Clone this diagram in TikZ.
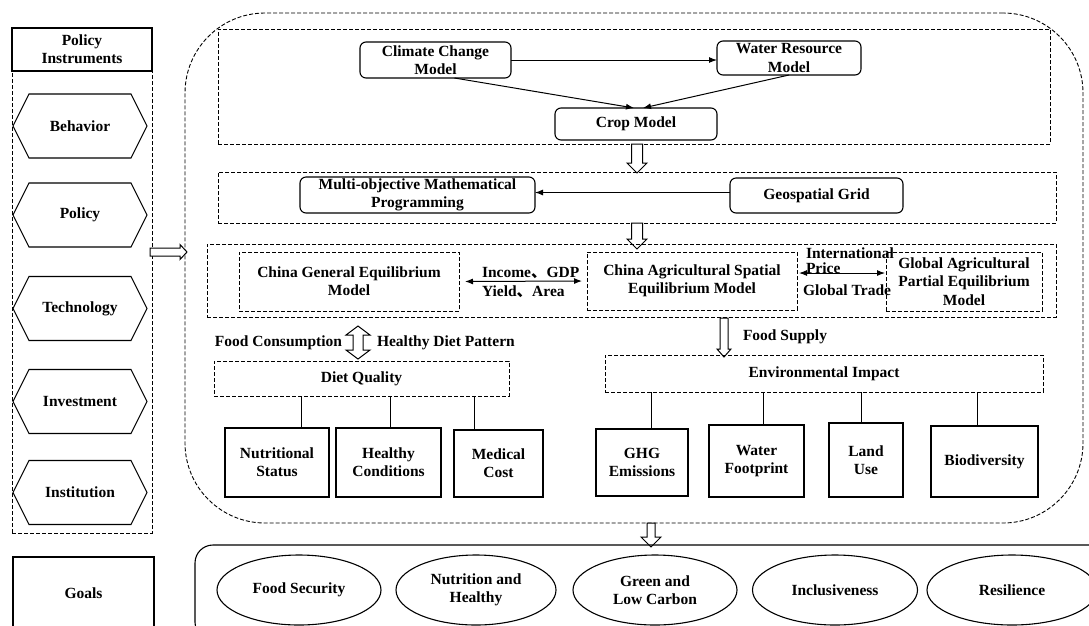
\documentclass[tikz,border=0pt]{standalone}
\usepackage{fontspec}
\setmainfont{Liberation Serif}
\newfontfamily\cjk{Noto Sans CJK SC}
\usetikzlibrary{arrows.meta,shapes.geometric,calc}
\newcommand\hexnode[3]{%
  \node (#1) at (80,#2) {#3};
  \draw[line width=1.1pt] (13,#2) -- (29,{#2-32}) -- (131,{#2-32}) -- (147,#2) -- (131,{#2+32}) -- (29,{#2+32}) -- cycle;}
% x, ytop, ybot, shaft half, head half, head length
\newcommand\hdown[6]{%
  \draw[harrow] ({#1-#4},#2) -- ({#1-#4},{#3-#6}) -- ({#1-#5},{#3-#6}) -- (#1,#3) -- ({#1+#5},{#3-#6}) -- ({#1+#4},{#3-#6}) -- ({#1+#4},#2) -- cycle;}
\newcommand\hupdown[6]{%
  \draw[harrow] (#1,#2) -- ({#1+#5},{#2+#6}) -- ({#1+#4},{#2+#6}) -- ({#1+#4},{#3-#6}) -- ({#1+#5},{#3-#6}) -- (#1,#3) -- ({#1-#5},{#3-#6}) -- ({#1-#4},{#3-#6}) -- ({#1-#4},{#2+#6}) -- ({#1-#5},{#2+#6}) -- cycle;}
% y, xleft, xright, shaft half, head half, head length
\newcommand\hright[6]{%
  \draw[harrow] (#2,{#1-#4}) -- ({#3-#6},{#1-#4}) -- ({#3-#6},{#1-#5}) -- (#3,#1) -- ({#3-#6},{#1+#5}) -- ({#3-#6},{#1+#4}) -- (#2,{#1+#4}) -- cycle;}
\begin{document}
\begin{tikzpicture}[x=1pt,y=-1pt,
  every node/.style={font=\fontsize{15.5}{18.3}\selectfont\bfseries, align=center, inner sep=0pt, outer sep=0pt},
  sbox/.style={draw, line width=1.1pt},
  dbox/.style={draw, line width=0.9pt, dash pattern=on 4pt off 2pt},
  rbox/.style={draw, line width=1.1pt, rounded corners=6pt},
  conn/.style={line width=1pt},
  arr/.style={line width=1pt, -{Latex[length=8pt,width=6pt]}},
  darr/.style={line width=1pt, {Latex[length=8pt,width=6pt]}-{Latex[length=8pt,width=6pt]}},
  harrow/.style={draw, line width=1pt, fill=white, line join=miter},
  goal/.style={ellipse, draw, line width=1.1pt}
]
\fill[white] (0,0) rectangle (1089,625);
\useasboundingbox (0,0) rectangle (1089,625);

% ---------- left panel ----------
\node[sbox, minimum width=140pt, minimum height=43pt] (pi) at (82,49.5) {Policy\\Instruments};
\node[dbox, minimum width=140pt, minimum height=462pt] (panel) at (82,302) {};
\hexnode{beh}{126}{Behavior}
\hexnode{pol}{215}{Policy}
\hexnode{tec}{308.5}{Technology}
\hexnode{inv}{401.5}{Investment}
\hexnode{ins}{492.5}{Institution}
\node[sbox, minimum width=141pt, minimum height=90pt] (goalsbox) at (83.5,602) {};
\node (goalst) at (83.5,593) {Goals};

% ---------- main dashed frame ----------
\node[dbox, rounded corners=80pt, minimum width=898pt, minimum height=510pt] (main) at (634,268) {};
\hright{252}{150}{187}{4}{7.5}{7}

% ---------- top block ----------
\node[dbox, minimum width=832pt, minimum height=115pt] (top) at (634,86.5) {};
\node[rbox, minimum width=151pt, minimum height=36pt] (cl) at (435.5,60) {Climate Change\\Model};
\node[rbox, minimum width=144pt, minimum height=34pt] (wr) at (789,58) {Water Resource\\Model};
\node[rbox, minimum width=162pt, minimum height=32pt] (cr) at (636,124) {Crop Model};
\draw[arr] (cl.east) -- (cl.east -| wr.west);
\draw[arr] ([xshift=19pt]cl.south) -- ([xshift=-2pt]cr.north);
\draw[arr] (wr.south) -- ([xshift=7pt]cr.north);
\hdown{637}{144}{173}{5.5}{10}{10}

% ---------- second block ----------
\node[dbox, minimum width=838pt, minimum height=51pt] (b2) at (637,197.5) {};
\node[rbox, minimum width=235pt, minimum height=36pt] (mo) at (417.5,195) {Multi-objective Mathematical\\Programming};
\node[rbox, minimum width=173pt, minimum height=35pt] (geo) at (816.5,195.5) {Geospatial Grid};
\draw[arr] ([yshift=3pt]geo.west) -- ([yshift=3pt]geo.west -| mo.east);
\hdown{637}{223}{249}{5.5}{10}{10}

% ---------- third block ----------
\node[dbox, minimum width=849pt, minimum height=73pt] (b3) at (631.5,280.5) {};
\node[dbox, minimum width=220pt, minimum height=59pt] (cge) at (349,281.5) {China General Equilibrium\\Model};
\node[dbox, minimum width=210pt, minimum height=58pt] (case) at (692,281) {China Agricultural Spatial\\Equilibrium Model};
\node[dbox, minimum width=156pt, minimum height=59pt] (gap) at (964,281.5) {Global Agricultural\\Partial Equilibrium\\Model};
\draw[darr, shorten <=6pt, shorten >=5pt] (cge.east) -- (case.west);
\node[anchor=west] (inc) at (482,273) {Income{\cjk 、}GDP};
\node[anchor=west] (yld) at (482,292) {Yield{\cjk 、}Area};
\draw[darr, shorten <=2pt, shorten >=1pt] ([yshift=8pt]case.east) -- ([yshift=8pt]case.east -| gap.west);
\node[anchor=west] (intl) at (806,253) {International};
\node[anchor=west] (price) at (806,268) {Price};
\node[anchor=west] (gtr) at (803,290) {Global Trade};

% ---------- diet side ----------
\hupdown{358}{326}{359}{5}{12}{9}
\node[anchor=east] (fc) at (342,343) {Food Consumption};
\node[anchor=west] (hdp) at (377,343) {Healthy Diet Pattern};
\node[dbox, minimum width=295pt, minimum height=35pt] (dq) at (361.5,378.5) {Diet Quality};
\node[sbox, minimum width=104pt, minimum height=69pt] (ns) at (277,462.5) {Nutritional\\Status};
\node[sbox, minimum width=105pt, minimum height=69pt] (hc) at (388.5,462.5) {Healthy\\Conditions};
\node[sbox, minimum width=89pt, minimum height=67pt] (mc) at (498.5,463.5) {Medical\\Cost};
\draw[conn] ([xshift=24pt]ns.north) -- ([xshift=24pt]ns.north |- dq.south);
\draw[conn] ([xshift=1.5pt]hc.north) -- ([xshift=1.5pt]hc.north |- dq.south);
\draw[conn] ([xshift=-24.5pt]mc.north) -- ([xshift=-24.5pt]mc.north |- dq.south);

% ---------- environment side ----------
\hdown{724}{318}{357}{4}{7}{8}
\node[anchor=west] (fs) at (743,337) {Food Supply};
\node[dbox, minimum width=438pt, minimum height=37pt] (env) at (824,373.5) {Environmental Impact};
\node[sbox, minimum width=92pt, minimum height=67pt] (ghg) at (642,462.5) {GHG\\Emissions};
\node[sbox, minimum width=95pt, minimum height=72pt] (wf) at (756.5,461) {Water\\Footprint};
\node[sbox, minimum width=74pt, minimum height=74pt] (lu) at (866,460) {Land\\Use};
\node[sbox, minimum width=107pt, minimum height=71pt] (bio) at (984.5,461.5) {Biodiversity};
\draw[conn] ([xshift=9pt]ghg.north) -- ([xshift=9pt]ghg.north |- env.south);
\draw[conn] ([xshift=6.5pt]wf.north) -- ([xshift=6.5pt]wf.north |- env.south);
\draw[conn] ([xshift=-5pt]lu.north) -- ([xshift=-5pt]lu.north |- env.south);
\draw[conn] ([xshift=-7.5pt]bio.north) -- ([xshift=-7.5pt]bio.north |- env.south);

% ---------- goals ----------
\hdown{651}{523}{547}{4}{10}{10}
\node[sbox, rounded corners=18pt, minimum width=915pt, minimum height=95pt] (gbox) at (652.5,592.5) {};
\node[goal, minimum width=164pt, minimum height=70pt] (g1) at (299,590) {Food Security};
\node[goal, minimum width=160pt, minimum height=70pt] (g2) at (476,590) {Nutrition and\\Healthy};
\node[goal, minimum width=164pt, minimum height=70pt] (g3) at (655,590) {Green and\\Low Carbon};
\node[goal, minimum width=165pt, minimum height=70pt] (g4) at (835,590) {Inclusiveness};
\node[goal, minimum width=170pt, minimum height=70pt] (g5) at (1012,590) {Resilience};
\end{tikzpicture}
\end{document}
